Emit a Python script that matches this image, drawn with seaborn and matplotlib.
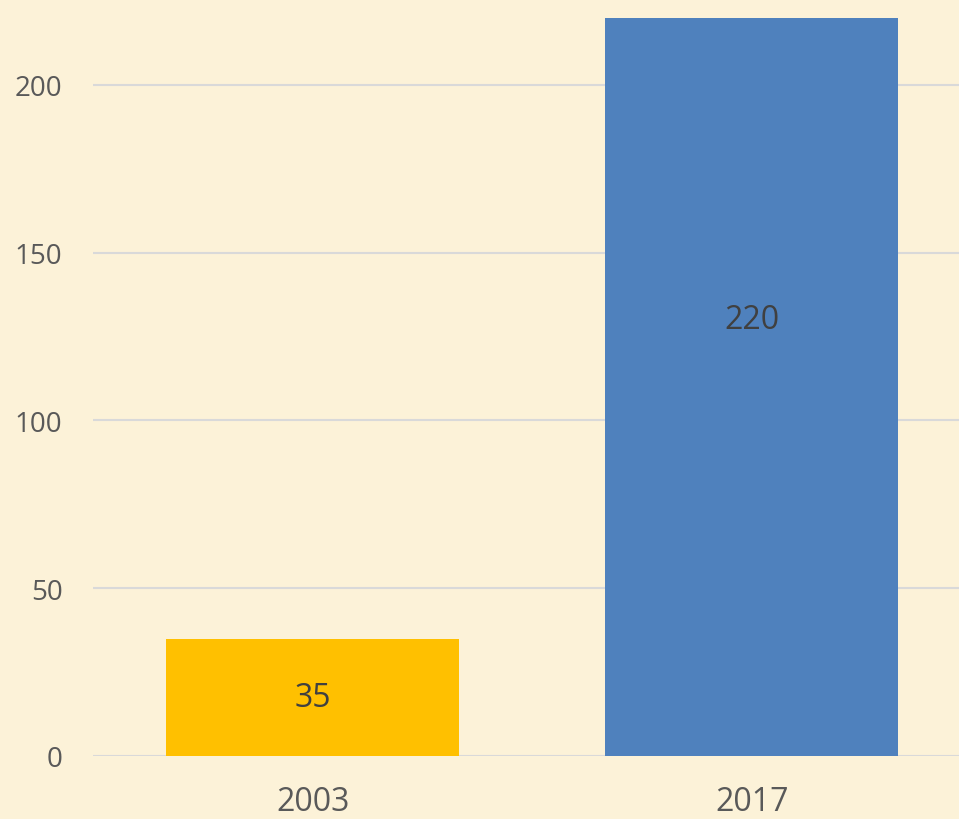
# Bar chart: 2003 vs 2017 comparison
import matplotlib
matplotlib.use("Agg")
import matplotlib.pyplot as plt
import seaborn as sns

# Data
years = ["2003", "2017"]
values = [35, 220]
bar_colors = ["#FFC000", "#4F81BD"]
label_y = [17.5, 130]
y_ticks = [0, 50, 100, 150, 200]

bg = "#FCF2D8"
text_col = "#595959"

sns.set_style("white")
plt.rcParams["font.family"] = ["Open Sans", "DejaVu Sans"]

fig = plt.figure(figsize=(9.59, 8.2), dpi=100, facecolor=bg)
ax = fig.add_axes([93 / 959, 63 / 820, 1 - 93 / 959, 757 / 820])
ax.set_facecolor(bg)

sns.barplot(x=years, y=values, hue=years, palette=bar_colors, width=0.667,
            legend=False, saturation=1, linewidth=0, ax=ax, zorder=3)

# Value labels inside the bars
for i, (v, ly) in enumerate(zip(values, label_y)):
    ax.text(i, ly, str(v), ha="center", va="center", fontsize=23,
            color="#404040", zorder=4)

ax.set_xlim(-0.5, 1.4715)
ax.set_ylim(0, 225.6)
ax.set_yticks(y_ticks)
ax.yaxis.grid(True, color="#D9D9D9", linewidth=1.5, zorder=0)
ax.xaxis.grid(False)
for s in ax.spines.values():
    s.set_visible(False)

ax.tick_params(axis="y", length=0, pad=22, labelsize=20, labelcolor=text_col)
ax.tick_params(axis="x", length=0, pad=21, labelsize=23, labelcolor=text_col)
ax.set_xlabel("")
ax.set_ylabel("")

fig.savefig("out.png", dpi=100, facecolor=bg)
